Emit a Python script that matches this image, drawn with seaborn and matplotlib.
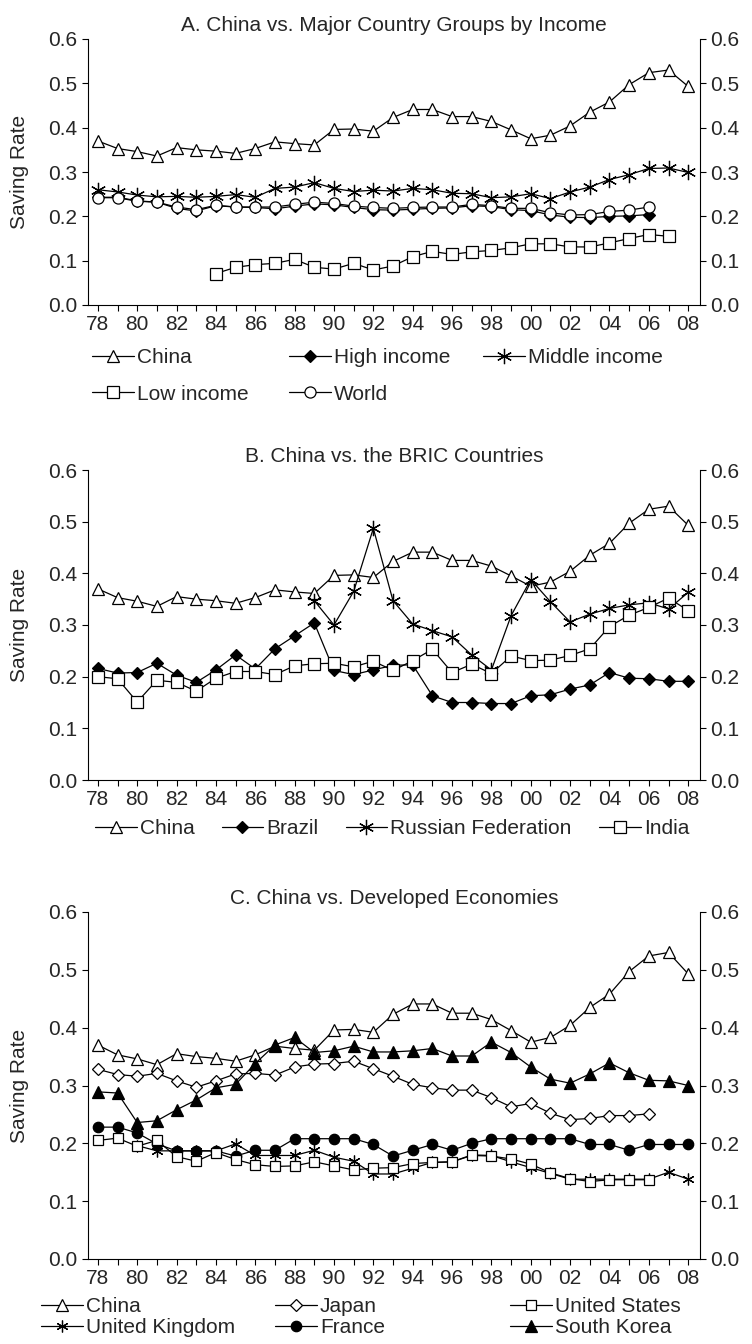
import numpy as np
import matplotlib
matplotlib.use("Agg")
import matplotlib.pyplot as plt
import seaborn as sns
from matplotlib.ticker import MultipleLocator, FuncFormatter

NA = np.nan
years = list(range(1978, 2009))

# China appears in all three panels
china = [0.370, 0.353, 0.346, 0.336, 0.355, 0.350, 0.347, 0.342, 0.353, 0.368,
         0.364, 0.361, 0.396, 0.397, 0.392, 0.423, 0.441, 0.441, 0.425, 0.425,
         0.414, 0.395, 0.375, 0.383, 0.404, 0.435, 0.458, 0.497, 0.524, 0.530, 0.493]

# Panel A: income groups
high_income = [0.243, 0.243, 0.235, 0.232, 0.218, 0.212, 0.224, 0.221, 0.220, 0.217,
               0.223, 0.228, 0.226, 0.220, 0.215, 0.214, 0.216, 0.218, 0.219, 0.224,
               0.222, 0.215, 0.213, 0.203, 0.198, 0.197, 0.200, 0.201, 0.204, NA, NA]
middle_income = [0.260, 0.255, 0.248, 0.244, 0.245, 0.243, 0.245, 0.249, 0.243, 0.263,
                 0.266, 0.276, 0.263, 0.256, 0.259, 0.257, 0.263, 0.260, 0.252, 0.251,
                 0.242, 0.244, 0.251, 0.240, 0.255, 0.266, 0.283, 0.294, 0.308, 0.309, 0.299]
low_income = [NA, NA, NA, NA, NA, NA, 0.071, 0.085, 0.091, 0.094,
              0.103, 0.085, 0.081, 0.094, 0.079, 0.088, 0.109, 0.121, 0.114, 0.120,
              0.123, 0.129, 0.138, 0.138, 0.131, 0.131, 0.140, 0.150, 0.159, 0.155, NA]
world = [0.242, 0.242, 0.234, 0.232, 0.221, 0.215, 0.225, 0.221, 0.221, 0.221,
         0.227, 0.232, 0.229, 0.223, 0.220, 0.218, 0.220, 0.221, 0.221, 0.227,
         0.224, 0.218, 0.218, 0.208, 0.203, 0.204, 0.211, 0.214, 0.221, NA, NA]

# Panel B: BRIC
brazil = [0.216, 0.207, 0.208, 0.226, 0.203, 0.189, 0.213, 0.242, 0.215, 0.254,
          0.279, 0.304, 0.212, 0.204, 0.213, 0.222, 0.223, 0.163, 0.150, 0.150,
          0.148, 0.148, 0.163, 0.165, 0.176, 0.184, 0.208, 0.197, 0.196, 0.191, 0.191]
russia = [NA, NA, NA, NA, NA, NA, NA, NA, NA, NA,
          NA, 0.347, 0.300, 0.365, 0.487, 0.347, 0.302, 0.289, 0.277, 0.242,
          0.213, 0.318, 0.388, 0.345, 0.306, 0.321, 0.332, 0.339, 0.343, 0.331, 0.363]
india = [0.200, 0.196, 0.151, 0.193, 0.189, 0.172, 0.197, 0.210, 0.210, 0.204,
         0.221, 0.225, 0.226, 0.219, 0.230, 0.212, 0.231, 0.253, 0.208, 0.224,
         0.206, 0.240, 0.231, 0.232, 0.241, 0.254, 0.297, 0.319, 0.334, 0.352, 0.328]

# Panel C: developed economies
japan = [0.328, 0.319, 0.316, 0.321, 0.308, 0.297, 0.308, 0.320, 0.321, 0.318,
         0.332, 0.337, 0.338, 0.342, 0.329, 0.316, 0.302, 0.296, 0.292, 0.292,
         0.279, 0.263, 0.269, 0.252, 0.241, 0.243, 0.248, 0.248, 0.251, NA, NA]
united_states = [0.205, 0.209, 0.195, 0.205, 0.177, 0.169, 0.184, 0.172, 0.163, 0.160,
                 0.161, 0.168, 0.161, 0.154, 0.157, 0.158, 0.165, 0.167, 0.168, 0.179,
                 0.178, 0.173, 0.164, 0.149, 0.139, 0.134, 0.137, 0.137, 0.137, NA, NA]
united_kingdom = [NA, NA, 0.196, 0.187, 0.187, 0.187, 0.187, 0.199, 0.179, 0.179,
                  0.179, 0.188, 0.176, 0.169, 0.147, 0.147, 0.157, 0.167, 0.168, 0.180,
                  0.179, 0.168, 0.158, 0.148, 0.138, 0.138, 0.138, 0.138, 0.138, 0.150, 0.138]
france = [0.228, 0.228, 0.218, 0.199, 0.187, 0.187, 0.187, 0.178, 0.188, 0.188,
          0.208, 0.208, 0.208, 0.208, 0.198, 0.178, 0.188, 0.198, 0.188, 0.200,
          0.208, 0.208, 0.208, 0.208, 0.208, 0.198, 0.198, 0.188, 0.198, 0.198, 0.198]
south_korea = [0.289, 0.287, 0.236, 0.239, 0.258, 0.275, 0.296, 0.302, 0.338, 0.370,
               0.383, 0.357, 0.360, 0.368, 0.358, 0.358, 0.360, 0.364, 0.351, 0.351,
               0.375, 0.357, 0.332, 0.311, 0.304, 0.320, 0.339, 0.322, 0.309, 0.308, 0.300]

sns.set_style("ticks")
plt.rcParams["font.family"] = ["Liberation Sans Narrow", "Liberation Sans", "DejaVu Sans"]

W, H = 752, 1344
fig = plt.figure(figsize=(W / 100, H / 100), dpi=100)


def px_axes(top, bottom, left=88, right=700):
    return fig.add_axes([left / W, 1 - bottom / H, (right - left) / W, (bottom - top) / H])


ax_a = px_axes(39, 305)
ax_b = px_axes(470, 780)
ax_c = px_axes(912, 1259)


def draw(ax, vals, label, marker, face, ms):
    sns.lineplot(x=years, y=vals, ax=ax, color="black", lw=0.9, marker=marker,
                 markersize=ms, markerfacecolor=face, markeredgecolor="black",
                 markeredgewidth=0.9, legend=False)
    line = ax.lines[-1]
    line.set_label(label)
    return line


def style_axis(ax, title):
    ax.set_xlim(1977.5, 2008.6)
    ax.set_ylim(0, 0.6)
    ax.xaxis.set_major_locator(MultipleLocator(2))
    ax.xaxis.set_minor_locator(MultipleLocator(1))
    ax.xaxis.set_major_formatter(FuncFormatter(lambda v, p: f"{int(v) % 100:02d}"))
    ax.yaxis.set_major_locator(MultipleLocator(0.1))
    ax.yaxis.set_major_formatter(FuncFormatter(lambda v, p: f"{v:.1f}"))
    ax.tick_params(axis="both", which="both", direction="out", length=4.5, width=0.8,
                   labelsize=15, color="black", pad=3)
    ax.tick_params(axis="y", right=True, labelright=True)
    ax.spines["top"].set_visible(False)
    for s in ("left", "right", "bottom"):
        ax.spines[s].set_linewidth(0.8)
        ax.spines[s].set_color("black")
    ax.set_title(title, fontsize=15, pad=6)
    ax.set_ylabel("Saving Rate", fontsize=15)
    ax.yaxis.set_label_coords(-0.096, 0.5)
    ax.set_xlabel("")


def column_legends(columns, xs, top, spacing):
    for handles, x in zip(columns, xs):
        fig.legend(handles=handles, loc="upper left", frameon=False, fontsize=15,
                   bbox_to_anchor=(x / W, 1 - top / H), handlelength=2.0,
                   handletextpad=0.15, labelspacing=spacing, borderpad=0,
                   borderaxespad=0)


# Panel A
ha = [draw(ax_a, china, "China", "^", "white", 8),
      draw(ax_a, high_income, "High income", "D", "black", 6),
      draw(ax_a, middle_income, "Middle income", (6, 2, 0), "black", 11),
      draw(ax_a, low_income, "Low income", "s", "white", 8),
      draw(ax_a, world, "World", "o", "white", 8)]
style_axis(ax_a, "A. China vs. Major Country Groups by Income")
column_legends([[ha[0], ha[3]], [ha[1], ha[4]], [ha[2]]], [92, 289, 483], 348, 0.85)

# Panel B
hb = [draw(ax_b, china, "China", "^", "white", 8),
      draw(ax_b, brazil, "Brazil", "D", "black", 6),
      draw(ax_b, russia, "Russian Federation", (6, 2, 0), "black", 11),
      draw(ax_b, india, "India", "s", "white", 8)]
style_axis(ax_b, "B. China vs. the BRIC Countries")
fig.legend(handles=hb, ncol=4, loc="upper left", frameon=False, fontsize=15,
           bbox_to_anchor=(95 / W, 1 - 819 / H), handlelength=2.0, handletextpad=0.15,
           columnspacing=1.3, borderpad=0, borderaxespad=0)

# Panel C
hc = [draw(ax_c, china, "China", "^", "white", 8),
      draw(ax_c, united_kingdom, "United Kingdom", (6, 2, 0), "black", 8.5),
      draw(ax_c, japan, "Japan", "D", "white", 6),
      draw(ax_c, france, "France", "o", "black", 7.5),
      draw(ax_c, united_states, "United States", "s", "white", 7.5),
      draw(ax_c, south_korea, "South Korea", "^", "black", 8)]
style_axis(ax_c, "C. China vs. Developed Economies")
column_legends([hc[0:2], hc[2:4], hc[4:6]], [41, 275, 510], 1297, 0.1)

fig.savefig("out.png", dpi=100)
